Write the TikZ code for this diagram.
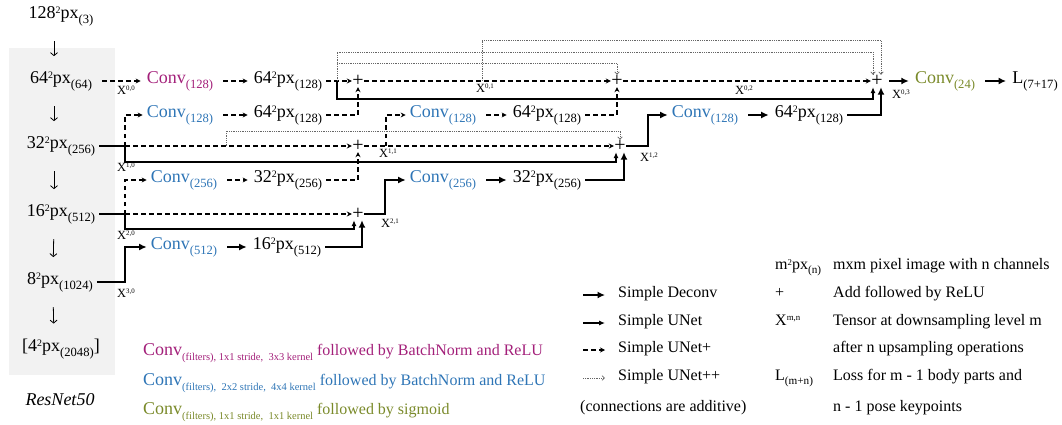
\documentclass[tikz,border=0pt]{standalone}
\usepackage{fontspec}
\setmainfont{Liberation Serif}
\usepackage{graphicx}
\usetikzlibrary{arrows.meta,calc}

\definecolor{cmag}{HTML}{A3207A}
\definecolor{cblue}{HTML}{2E75B6}
\definecolor{colive}{HTML}{7A8A2A}
\definecolor{boxgray}{HTML}{F2F2F2}

% typographic helpers
\newcommand\sqr{\raisebox{0.25em}{\scalebox{0.55}{2}}}
\newcommand\lowr[1]{\raisebox{-0.27em}{\scalebox{0.7}{#1}}}
\newcommand\pxn[2]{#1\sqr px\lowr{(#2)}}
\newcommand\convn[1]{Conv\lowr{(#1)}}
\newcommand\tens[1]{X\raisebox{0.33em}{\scalebox{0.55}{#1}}}

\tikzset{
  txt/.style={font=\fontsize{18}{20}\selectfont, inner xsep=4pt, inner ysep=2pt, anchor=mid},
  lbl/.style={font=\fontsize{12.5}{14}\selectfont, inner sep=0pt},
  legtxt/.style={font=\fontsize{16}{18}\selectfont, anchor=mid west, inner sep=0pt},
  legsym/.style={font=\fontsize{16}{18}\selectfont, anchor=mid west, inner sep=0pt},
  plusnode/.style={font=\fontsize{20}{22}\selectfont, minimum size=12pt, inner sep=0pt},
  ttip/.tip={Latex[length=6pt,width=5pt]},
  Ttip/.tip={Latex[length=7.5pt,width=7pt]},
  dtip/.tip={Stealth[length=5pt,width=5pt]},
  otip/.tip={Straight Barb[length=2.5pt,width=4.5pt]},
  deconv/.style={line width=2pt},
  unet/.style={line width=1.1pt},
  unetp/.style={line width=1.1pt, dash pattern=on 4.5pt off 3.5pt},
  unetpp/.style={line width=0.7pt, black!60, dash pattern=on 0.7pt off 1.1pt},
  gap/.style={shorten <=6pt, shorten >=2pt},
  downarr/.style={line width=0.8pt, -{Straight Barb[length=3pt,width=7pt]}, shorten <=13pt, shorten >=13pt},
}

\begin{document}
\begin{tikzpicture}[x=1pt,y=-1pt]
\useasboundingbox (0,0) rectangle (1062,425);

% backbone panel
\fill[boxgray] (9,48) rectangle (115,375);

% encoder column
\node[txt] (c128) at (61,16) {\pxn{128}{3}};
\node[txt] (c64) at (61,81) {\pxn{64}{64}};
\node[txt] (c32) at (61,146) {\pxn{32}{256}};
\node[txt] (c16) at (61,214) {\pxn{16}{512}};
\node[txt] (c8) at (60,282) {\pxn{8}{1024}};
\node[txt] (c4) at (61,349) {[\pxn{4}{2048}]};
\node[txt, font=\fontsize{18}{20}\selectfont\itshape] (res) at (60,403) {ResNet50};

\foreach \a/\b in {c128/c64, c64/c32, c32/c16, c16/c8, c8/c4}
  \draw[downarr] ([xshift=-7pt]\a.south) -- ([xshift=-7pt]\b.north);

% decoder nodes
\node[txt, text=cmag] (convA) at (180,81) {\convn{128}};
\node[txt] (pA) at (288,81) {\pxn{64}{128}};
\node[txt, text=cblue] (convB) at (180,115) {\convn{128}};
\node[txt] (pB) at (288,115) {\pxn{64}{128}};
\node[txt, text=cblue] (convC) at (443,115) {\convn{128}};
\node[txt] (pC) at (547,115) {\pxn{64}{128}};
\node[txt, text=cblue] (convD) at (705,115) {\convn{128}};
\node[txt] (pD) at (809,115) {\pxn{64}{128}};
\node[txt, text=cblue] (convF) at (184,180) {\convn{256}};
\node[txt] (pF) at (288,180) {\pxn{32}{256}};
\node[txt, text=cblue] (convG) at (443,180) {\convn{256}};
\node[txt] (pG) at (547,180) {\pxn{32}{256}};
\node[txt, text=cblue] (convH) at (184,247) {\convn{512}};
\node[txt] (pH) at (287,247) {\pxn{16}{512}};
\node[txt, text=colive] (convE) at (945,81) {\convn{24}};
\node[txt] (loss) at (1035,81) {L\lowr{(7+17)}};

% additions
\node[plusnode] (p01) at (358,81) {+};
\node[plusnode] (p02) at (617,81) {+};
\node[plusnode] (p03) at (877,81) {+};
\node[plusnode] (p11) at (358,146) {+};
\node[plusnode] (p12) at (620,146) {+};
\node[plusnode] (p21) at (358,214) {+};

% branch points
\coordinate (j0) at (337,81);
\coordinate (j1) at (482,81);
\coordinate (j10) at (125,146);
\coordinate (d10) at (226,146);
\coordinate (j11) at (386,146);
\coordinate (j12) at (648,146);
\coordinate (j20) at (125,214);
\coordinate (j21) at (385,214);
\coordinate (j30) at (125,282);

% level 0
\draw[unetp,-dtip,gap] (c64.mid east) -- (convA.mid west);
\draw[unetp,-dtip,gap] (convA.mid east) -- (pA.mid west);
\draw[unetp,-dtip] (pA.mid east) -- (p01.west);
\draw[unet,-ttip] (j0) -- ++(0,18) -| ([xshift=-4pt]p03.south);
\draw[unetpp,-otip] (j0) -- ++(0,-18) -| (p02.north);
\draw[unetpp,-otip] (j0) -- ++(0,-29) -| ([xshift=-4pt]p03.north);
\draw[unetp,-dtip] (p01.east) -- (p02.west);
\draw[unetpp,-otip] (j1) -- ++(0,-41) -| ([xshift=4pt]p03.north);
\draw[unetp,-dtip] (p02.east) -- (p03.west);
\draw[deconv,-Ttip,gap] (p03.east) -- (convE.mid west);
\draw[deconv,-Ttip,gap] (convE.mid east) -- (loss.mid west);

% level 0, second row
\draw[unetp,-dtip] (j10) |- (convB.mid west);
\draw[unetp,-dtip,gap] (convB.mid east) -- (pB.mid west);
\draw[unetp,-dtip] (pB.mid east) -| (p01.south);
\draw[unetp,-dtip] (j11) |- (convC.mid west);
\draw[unetp,-dtip,gap] (convC.mid east) -- (pC.mid west);
\draw[unetp,-dtip] (pC.mid east) -| (p02.south);
\draw[deconv,-Ttip] (p12.east) -- (j12) |- (convD.mid west);
\draw[deconv,-Ttip,gap] (convD.mid east) -- (pD.mid west);
\draw[deconv,-Ttip] (pD.mid east) -| ([xshift=4pt]p03.south);

% level 1
\draw[unet] (c32.mid east) -- (j10);
\draw[unetp,-dtip] (j10) -- (p11.west);
\draw[unet,-ttip] (j10) -- ++(0,16) -| ([xshift=-4pt]p12.south);
\draw[unetpp,-otip] (d10) -- ++(0,-15) -| (p12.north);
\draw[unetp,-dtip] (p11.east) -- (p12.west);

% level 1, second row
\draw[unetp,-dtip] (j20) |- (convF.mid west);
\draw[unetp,-dtip,gap] (convF.mid east) -- (pF.mid west);
\draw[unetp,-dtip] (pF.mid east) -| (p11.south);
\draw[deconv,-Ttip] (p21.east) -- (j21) |- (convG.mid west);
\draw[deconv,-Ttip,gap] (convG.mid east) -- (pG.mid west);
\draw[deconv,-Ttip] (pG.mid east) -| ([xshift=4pt]p12.south);

% level 2
\draw[unet] (c16.mid east) -- (j20);
\draw[unetp,-dtip] (j20) -- (p21.west);
\draw[unet,-ttip] (j20) -- ++(0,15) -| ([xshift=-4pt]p21.south);

% level 3
\draw[deconv,-Ttip] (c8.mid east) -- (j30) |- (convH.mid west);
\draw[deconv,-Ttip,gap] (convH.mid east) -- (pH.mid west);
\draw[deconv,-Ttip] (pH.mid east) -| ([xshift=4pt]p21.south);

% tensor labels
\node[lbl] (x00) at (126,90) {\tens{0,0}};
\node[lbl] (x01) at (485,88) {\tens{0,1}};
\node[lbl] (x02) at (744,90) {\tens{0,2}};
\node[lbl] (x03) at (901,94) {\tens{0,3}};
\node[lbl] (x10) at (126,167) {\tens{1,0}};
\node[lbl] (x11) at (388,153) {\tens{1,1}};
\node[lbl] (x12) at (649,157) {\tens{1,2}};
\node[lbl] (x20) at (126,235) {\tens{2,0}};
\node[lbl] (x21) at (390,223) {\tens{2,1}};
\node[lbl] (x30) at (126,293) {\tens{3,0}};

% legend: connection types
\coordinate (ls1) at (583,295); \coordinate (le1) at (605,295);
\coordinate (ls2) at (583,323); \coordinate (le2) at (605,323);
\coordinate (ls3) at (583,350); \coordinate (le3) at (605,350);
\coordinate (ls4) at (583,378); \coordinate (le4) at (605,378);
\draw[deconv,-Ttip] (ls1) -- (le1);
\draw[unet,-ttip] (ls2) -- (le2);
\draw[unetp,-dtip] (ls3) -- (le3);
\draw[unetpp,-otip] (ls4) -- (le4);
\node[legtxt] (lt1) at (618,295) {Simple Deconv};
\node[legtxt] (lt2) at (618,323) {Simple UNet};
\node[legtxt] (lt3) at (618,350) {Simple UNet+};
\node[legtxt] (lt4) at (618,378) {Simple UNet++};
\node[legtxt] (lt5) at (580,409) {(connections are additive)};

% legend: notation
\node[legsym] (ls) at (775,267) {m\sqr px\lowr{(n)}};
\node[legsym] (lp) at (775,295) {+};
\node[legsym] (lx) at (775,323) {\tens{m,n}};
\node[legsym] (ll) at (775,378) {L\lowr{(m+n)}};
\node[legtxt] (ld1) at (833,267) {mxm pixel image with n channels};
\node[legtxt] (ld2) at (833,295) {Add followed by ReLU};
\node[legtxt] (ld3) at (833,323) {Tensor at downsampling level m};
\node[legtxt] (ld4) at (833,350) {after n upsampling operations};
\node[legtxt] (ld5) at (833,378) {Loss for m - 1 body parts and};
\node[legtxt] (ld6) at (833,409) {n - 1 pose keypoints};

% legend: convolution types
\node[legtxt, text=cmag] (k1) at (143,353) {{\fontsize{18}{20}\selectfont Conv\raisebox{-0.3em}{\fontsize{10.5}{12}\selectfont (filters), 1x1 stride, \ 3x3 kernel}} followed by BatchNorm and ReLU};
\node[legtxt, text=cblue] (k2) at (143,383) {{\fontsize{18}{20}\selectfont Conv\raisebox{-0.3em}{\fontsize{10.5}{12}\selectfont (filters), \ 2x2 stride, \ 4x4 kernel}} followed by BatchNorm and ReLU};
\node[legtxt, text=colive] (k3) at (143,412) {{\fontsize{18}{20}\selectfont Conv\raisebox{-0.3em}{\fontsize{10.5}{12}\selectfont (filters), 1x1 stride, \ 1x1 kernel}} followed by sigmoid};
\end{tikzpicture}
\end{document}
